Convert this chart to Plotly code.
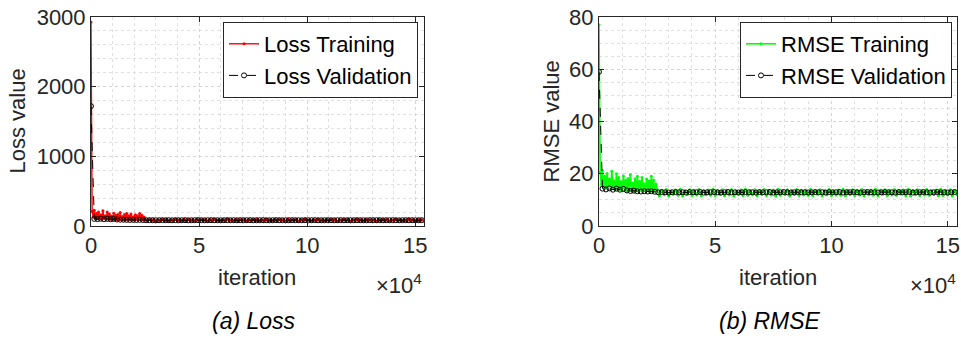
import plotly.graph_objects as go

# ---------------- data ----------------
train_iter = list(range(0, 25000, 500)) + list(range(25000, 154001, 1000))
val_iter = list(range(0, 153001, 1500))

loss_train = [
    2930, 210, 128, 225, 112, 180, 105, 202, 116, 162,
    98, 220, 120, 148, 99, 200, 112, 173, 97, 145,
    91, 182, 107, 153, 90, 166, 98, 192, 95, 136,
    88, 164, 98, 180, 90, 146, 99, 173, 91, 131,
    90, 162, 98, 148, 88, 180, 98, 155, 90, 130,
    96, 70, 92, 73, 98, 68, 90, 76, 95, 71,
    99, 67, 91, 74, 97, 70, 94, 72, 98, 68,
    92, 73, 95, 71, 99, 70, 91, 74, 97, 68,
    94, 72, 98, 67, 90, 76, 95, 70, 99, 71,
    92, 73, 97, 68, 91, 74, 98, 70, 94, 72,
    95, 67, 99, 71, 91, 73, 97, 68, 92, 74,
    98, 70, 94, 72, 95, 71, 99, 68, 90, 76,
    97, 67, 92, 73, 98, 70, 91, 72, 95, 71,
    99, 68, 94, 74, 97, 70, 92, 72, 98, 67,
    91, 73, 95, 71, 99, 68, 94, 74, 97, 70,
    92, 72, 98, 71, 90, 76, 95, 68, 99, 67,
    94, 73, 97, 70, 91, 72, 98, 71, 92, 74,
    95, 68, 99, 70, 94, 72, 97, 67, 91, 73,
]

rmse_train = [
    77.0, 20.5, 16.0, 21.2, 15.0, 19.0, 14.5, 20.1, 15.2, 18.0,
    14.0, 21.0, 15.5, 17.2, 14.1, 20.0, 15.0, 18.6, 13.9, 17.0,
    13.5, 19.1, 14.6, 17.5, 13.4, 18.2, 14.0, 19.6, 13.8, 16.5,
    13.3, 18.1, 14.0, 19.0, 13.4, 17.1, 14.1, 18.6, 13.5, 16.2,
    13.4, 18.0, 14.0, 17.2, 13.3, 19.0, 14.0, 17.6, 13.4, 16.1,
    13.9, 11.6, 13.6, 12.0, 14.0, 11.5, 13.4, 12.2, 13.8, 11.8,
    14.1, 11.5, 13.5, 12.1, 13.9, 11.7, 13.7, 11.9, 14.0, 11.6,
    13.6, 12.0, 13.8, 11.8, 14.1, 11.7, 13.5, 12.1, 13.9, 11.6,
    13.7, 11.9, 14.0, 11.5, 13.4, 12.2, 13.8, 11.7, 14.1, 11.8,
    13.6, 12.0, 13.9, 11.6, 13.5, 12.1, 14.0, 11.7, 13.7, 11.9,
    13.8, 11.5, 14.1, 11.8, 13.5, 12.0, 13.9, 11.6, 13.6, 12.1,
    14.0, 11.7, 13.7, 11.9, 13.8, 11.8, 14.1, 11.6, 13.4, 12.2,
    13.9, 11.5, 13.6, 12.0, 14.0, 11.7, 13.5, 11.9, 13.8, 11.8,
    14.1, 11.6, 13.7, 12.1, 13.9, 11.7, 13.6, 11.9, 14.0, 11.5,
    13.5, 12.0, 13.8, 11.8, 14.1, 11.6, 13.7, 12.1, 13.9, 11.7,
    13.6, 11.9, 14.0, 11.8, 13.4, 12.2, 13.8, 11.6, 14.1, 11.5,
    13.7, 12.0, 13.9, 11.7, 13.5, 11.9, 14.0, 11.8, 13.6, 12.1,
    13.8, 11.6, 14.1, 11.7, 13.7, 11.9, 13.9, 11.5, 13.5, 12.0,
]

loss_val = [
    1720, 102, 98, 104, 97, 102, 97, 101, 93, 90,
    91, 88, 87, 88, 87, 88, 86,
    83, 84, 83, 82, 83, 84, 83, 83, 82, 84,
    83, 83, 84, 82, 83, 83, 84, 83, 82, 83,
    84, 83, 83, 82, 83, 84, 83, 83, 82, 84,
    83, 83, 84, 82, 83, 83, 84, 83, 82, 83,
    84, 83, 83, 82, 83, 84, 83, 83, 82, 84,
    83, 83, 84, 82, 83, 83, 84, 83, 82, 83,
    84, 83, 83, 82, 83, 84, 83, 83, 82, 84,
    83, 83, 84, 82, 83, 83, 84, 83, 82, 83,
    84, 83, 83, 82, 83, 84,
]

rmse_val = [
    59.0, 14.3, 14.0, 14.4, 13.9, 14.3, 13.9, 14.2, 13.6, 13.4,
    13.5, 13.3, 13.2, 13.3, 13.2, 13.3, 13.1,
    12.9, 13.0, 12.9, 12.8, 12.9, 13.0, 12.9, 12.9, 12.8, 13.0,
    12.9, 12.9, 13.0, 12.8, 12.9, 12.9, 13.0, 12.9, 12.8, 12.9,
    13.0, 12.9, 12.9, 12.8, 12.9, 13.0, 12.9, 12.9, 12.8, 13.0,
    12.9, 12.9, 13.0, 12.8, 12.9, 12.9, 13.0, 12.9, 12.8, 12.9,
    13.0, 12.9, 12.9, 12.8, 12.9, 13.0, 12.9, 12.9, 12.8, 13.0,
    12.9, 12.9, 13.0, 12.8, 12.9, 12.9, 13.0, 12.9, 12.8, 12.9,
    13.0, 12.9, 12.9, 12.8, 12.9, 13.0, 12.9, 12.9, 12.8, 13.0,
    12.9, 12.9, 13.0, 12.8, 12.9, 12.9, 13.0, 12.9, 12.8, 12.9,
    13.0, 12.9, 12.9, 12.8, 12.9, 13.0,
]

x_tickvals = [0, 50000, 100000, 150000]
x_ticktext = ["0", "5", "10", "15"]
loss_ticks = [0, 1000, 2000, 3000]
rmse_ticks = [0, 20, 40, 60, 80]

# ---------------- figure ----------------
W, H = 961, 340
FONT = "Liberation Sans, Arial, sans-serif"
AX = "#262626"
FS = 22

def px(x):
    return x / W

def py(y):
    return 1 - y / H

fig = go.Figure()

fig.add_trace(go.Scatter(
    x=train_iter, y=loss_train, mode="lines+markers", name="Loss Training",
    line=dict(color="#ff0000", width=1.4), marker=dict(size=3, color="#ff0000"),
    xaxis="x", yaxis="y", legend="legend"))
fig.add_trace(go.Scatter(
    x=val_iter, y=loss_val, mode="lines+markers", name="Loss Validation",
    line=dict(color="#000000", width=1, dash="dash"),
    marker=dict(symbol="circle-open", size=5, color="#000000", line=dict(width=1)),
    xaxis="x", yaxis="y", legend="legend"))
fig.add_trace(go.Scatter(
    x=train_iter, y=rmse_train, mode="lines+markers", name="RMSE Training",
    line=dict(color="#00ff00", width=1.6), marker=dict(size=3, color="#00ff00"),
    xaxis="x2", yaxis="y2", legend="legend2"))
fig.add_trace(go.Scatter(
    x=val_iter, y=rmse_val, mode="lines+markers", name="RMSE Validation",
    line=dict(color="#000000", width=1, dash="dash"),
    marker=dict(symbol="circle-open", size=5, color="#000000", line=dict(width=1)),
    xaxis="x2", yaxis="y2", legend="legend2"))

common = dict(
    showline=True, linecolor=AX, linewidth=1, mirror="allticks",
    ticks="inside", ticklen=5, tickcolor=AX, tickwidth=1,
    showgrid=True, gridcolor="#d4d4d4", griddash="dot", gridwidth=1,
    zeroline=False, automargin=False,
    tickfont=dict(family=FONT, size=FS, color=AX),
)

def xax(domain, anchor):
    return dict(common, domain=domain, anchor=anchor, range=[0, 154000],
                tickmode="array", tickvals=x_tickvals, ticktext=x_ticktext,
                minor=dict(dtick=10000, tick0=0, showgrid=True, gridcolor="#e0e0e0",
                           griddash="dot", ticklen=0))

def yax(domain, anchor, rng, tv, mdt):
    return dict(common, domain=domain, anchor=anchor, range=rng,
                tickmode="array", tickvals=tv,
                minor=dict(dtick=mdt, tick0=0, showgrid=True, gridcolor="#e0e0e0",
                           griddash="dot", ticklen=0))

ydom = [py(226), py(17)]
legend_common = dict(yanchor="top", xanchor="right", bgcolor="white",
                     bordercolor=AX, borderwidth=1,
                     font=dict(family=FONT, size=FS, color="#000000"),
                     itemwidth=30, tracegroupgap=0)
fig.update_layout(
    width=W, height=H, margin=dict(l=0, r=0, t=0, b=0, pad=0, autoexpand=False),
    paper_bgcolor="white", plot_bgcolor="white",
    font=dict(family=FONT, color=AX),
    xaxis=xax([px(91), px(424)], "y"),
    yaxis=yax(ydom, "x", [0, 3000], loss_ticks, 200),
    xaxis2=xax([px(599), px(957)], "y2"),
    yaxis2=yax(ydom, "x2", [0, 80], rmse_ticks, 5),
    legend=dict(legend_common, x=px(418), y=py(22)),
    legend2=dict(legend_common, x=px(952), y=py(22)),
    showlegend=True,
)

ann = []
def add_text(text, x, y, size=FS, angle=0, xanchor="center", italic=False, color=AX):
    t = f"<i>{text}</i>" if italic else text
    ann.append(dict(text=t, x=px(x), y=py(y), xref="paper", yref="paper",
                    showarrow=False, textangle=angle, xanchor=xanchor, yanchor="middle",
                    font=dict(family=FONT, size=size, color=color)))

add_text("Loss value", 17, 121.5, angle=-90)
add_text("RMSE value", 551, 121.5, angle=-90)
add_text("iteration", 257, 277)
add_text("iteration", 778, 277)
add_text("×10<sup>4</sup>", 424, 284, xanchor="right")
add_text("×10<sup>4</sup>", 958, 284, xanchor="right")
add_text("(a) Loss", 254, 321, size=23, italic=True, color="#000000")
add_text("(b) RMSE", 770, 321, size=23, italic=True, color="#000000")
fig.update_layout(annotations=ann)

fig.write_html("out.html")
